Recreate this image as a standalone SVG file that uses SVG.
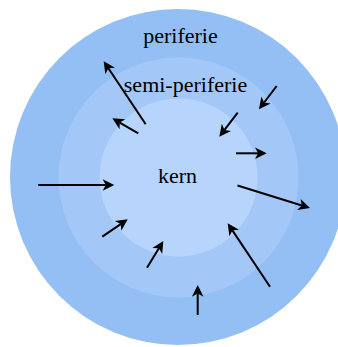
<svg xmlns="http://www.w3.org/2000/svg" width="338" height="347" viewBox="0 0 338 347">
<defs>
<style>
.lbl{font-family:"Liberation Serif","Times New Roman",serif;font-size:22px;fill:#000;text-anchor:middle}
.arr{stroke:#000;stroke-width:2;fill:none;marker-end:url(#ah)}
</style>
<marker id="ah" markerUnits="userSpaceOnUse" markerWidth="20" markerHeight="20" refX="0" refY="0" viewBox="-5 -10 20 20" orient="auto" overflow="visible">
<path d="M8.5,0 L-3.2,-5.8 L0,0 L-3.2,5.8 Z" fill="#000"/>
</marker>
</defs>
<g id="periferie">
<circle cx="178" cy="177" r="168" fill="#93bff4"/>
<text class="lbl" x="180.5" y="43">periferie</text>
</g>
<g id="semi-periferie">
<circle cx="178.5" cy="177.5" r="120" fill="#a3c7f7"/>
</g>
<g id="kern">
<circle cx="178.5" cy="177.5" r="79" fill="#b7d5fc"/>
<text class="lbl" x="177.5" y="183">kern</text>
</g>
<g id="semi-periferie-label">
<text class="lbl" x="185.5" y="92">semi-periferie</text>
</g>
<g id="connectors">
<line class="arr" x1="145.7" y1="124.3" x2="108.4" y2="68.3"/>
<line class="arr" x1="138.3" y1="133.3" x2="119.7" y2="122.6"/>
<line class="arr" x1="276.7" y1="86" x2="264.1" y2="102.5"/>
<line class="arr" x1="237.7" y1="112.7" x2="224.5" y2="129.9"/>
<line class="arr" x1="236" y1="153.3" x2="258.2" y2="153.3"/>
<line class="arr" x1="38.3" y1="185" x2="105.8" y2="185"/>
<line class="arr" x1="237.5" y1="185.5" x2="301.9" y2="205.5"/>
<line class="arr" x1="102.3" y1="236.7" x2="120.7" y2="224.1"/>
<line class="arr" x1="147" y1="267.7" x2="158.9" y2="248.3"/>
<line class="arr" x1="270" y1="286.7" x2="232.4" y2="230.4"/>
<line class="arr" x1="197.7" y1="315" x2="197.7" y2="293.5"/>
</g>
</svg>
